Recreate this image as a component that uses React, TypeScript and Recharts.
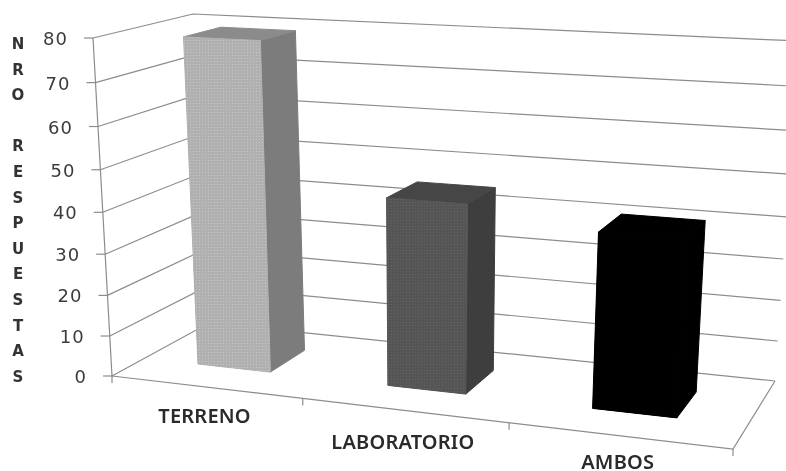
import React from 'react';
import { BarChart, Bar, XAxis, YAxis, CartesianGrid } from 'recharts';

const categories = ['TERRENO', 'LABORATORIO', 'AMBOS'];
const respuestas = [79, 45, 41];
const yTicks = [0, 10, 20, 30, 40, 50, 60, 70, 80];
const titleLetters = ['N', 'R', 'O', '', 'R', 'E', 'S', 'P', 'U', 'E', 'S', 'T', 'A', 'S'];

const data = categories.map((name, i) => ({ name, value: respuestas[i] }));

const W = 786, H = 471;
const M = { left: 99, right: 86, top: 50, bottom: 70 };
const PL = M.left + 1;
const PW = W - PL - M.right, PH = H - M.top - M.bottom - 1;
const PB = M.top + PH;
const D0 = 0.34, D1 = 0.73;
const BAR_U_SHIFT = 0.004;
const LABEL_DROP = [36, 39, 33];
type Pt = [number, number];

// unit square -> quad (bottom-left, bottom-right, top-right, top-left)
function homography(q: Pt[]) {
  const [[x0, y0], [x1, y1], [x2, y2], [x3, y3]] = q;
  const dx1 = x1 - x2, dx2 = x3 - x2, sx = x0 - x1 + x2 - x3;
  const dy1 = y1 - y2, dy2 = y3 - y2, sy = y0 - y1 + y2 - y3;
  const den = dx1 * dy2 - dx2 * dy1;
  const g = (sx * dy2 - dx2 * sy) / den;
  const h = (dx1 * sy - sx * dy1) / den;
  const a = x1 - x0 + g * x1, b = x3 - x0 + h * x3;
  const d = y1 - y0 + g * y1, e = y3 - y0 + h * y3;
  return (u: number, v: number): Pt => {
    const w = g * u + h * v + 1;
    return [(a * u + b * v + x0) / w, (d * u + e * v + y0) / w];
  };
}
const front = homography([[112, 376], [733, 449], [757, 70], [93, 38]]);
const back = homography([[209, 323], [775, 381], [798, 41], [193, 14]]);
const proj = (u: number, v: number, d: number): Pt => {
  const f = front(u, v), b = back(u, v);
  return [f[0] + (b[0] - f[0]) * d, f[1] + (b[1] - f[1]) * d];
};
const poly = (pts: Pt[]) => pts.map((p) => p[0].toFixed(1) + ',' + p[1].toFixed(1)).join(' ');
const toU = (x: number) => (x - PL) / PW;
const toV = (y: number) => (PB - y) / PH;

const LINE = '#8c8c8c';
const faces = [
  { front: '#b0b0b0', dot: '#c6c6c6', side: '#7c7c7c', top: '#8b8b8b' },
  { front: '#555555', dot: '#646464', side: '#3e3e3e', top: '#464646' },
  { front: '#000000', dot: '#000000', side: '#000000', top: '#000000' },
];

const Bar3D = (props: any) => {
  const { x, y, width, height, index } = props;
  const c = faces[index];
  const uL = toU(x) - BAR_U_SHIFT, uR = toU(x + width) - BAR_U_SHIFT, vT = toV(y), vB = toV(y + height);
  const id = 'dots' + index;
  const sidePts = poly([proj(uR, vB, D0), proj(uR, vB, D1), proj(uR, vT, D1), proj(uR, vT, D0)]);
  const topPts = poly([proj(uL, vT, D0), proj(uR, vT, D0), proj(uR, vT, D1), proj(uL, vT, D1)]);
  const frontPts = poly([proj(uL, vB, D0), proj(uR, vB, D0), proj(uR, vT, D0), proj(uL, vT, D0)]);
  return (
    <g>
      <defs>
        <pattern id={id} width={3} height={3} patternUnits="userSpaceOnUse">
          <rect width={3} height={3} fill={c.front} />
          <rect x={1} y={1} width={1} height={1} fill={c.dot} />
        </pattern>
      </defs>
      <polygon points={sidePts} fill={c.side} stroke={c.side} strokeWidth={1} strokeLinejoin="round" />
      <polygon points={topPts} fill={c.top} stroke={c.top} strokeWidth={1} strokeLinejoin="round" />
      <polygon points={frontPts} fill={c.front} stroke={c.front} strokeWidth={1} strokeLinejoin="round" />
      <polygon points={frontPts} fill={`url(#${id})`} />
    </g>
  );
};

const GridLine = (props: any) => {
  const v = toV(props.y1);
  const f = proj(0, v, 0);
  const isFloor = v < 0.001, isTop = v > 0.999;
  return (
    <g key={props.key}>
      <polyline points={poly([f, proj(0, v, 1), proj(1, v, 1)])} fill="none" stroke={LINE} strokeWidth={1.2} />
      <line x1={f[0] - 9} y1={f[1]} x2={f[0]} y2={f[1]} stroke={LINE} strokeWidth={1.2} />
      {isTop && <polyline points={poly([proj(0, 1, 0), proj(0, 0, 0)])} fill="none" stroke={LINE} strokeWidth={1.2} />}
      {isFloor && (
        <g>
          <polyline points={poly([proj(1, 0, 1), proj(1, 0, 0), proj(0, 0, 0)])} fill="none" stroke={LINE} strokeWidth={1.2} />
          {[0, 1, 2, 3].map((i) => {
            const p = proj(i / categories.length, 0, 0);
            return <line key={i} x1={p[0]} y1={p[1]} x2={p[0]} y2={p[1] + 7} stroke={LINE} strokeWidth={1.2} />;
          })}
        </g>
      )}
    </g>
  );
};

const YTick = (props: any) => {
  const p = proj(0, toV(props.y), 0);
  return (
    <text x={p[0] - 25} y={p[1] + 7} textAnchor="end" fontFamily="DejaVu Sans" fontSize={18} letterSpacing={1} fill="#3c3c3c">
      {props.payload.value}
    </text>
  );
};

const XTick = (props: any) => {
  const p = proj(toU(props.x), 0, 0);
  return (
    <text x={p[0] - 1} y={p[1] + LABEL_DROP[props.index]} textAnchor="middle" fontFamily="Noto Sans" fontWeight={600} fontSize={20} letterSpacing={0.2} fill="#2a2a2a">
      {props.payload.value}
    </text>
  );
};

export default function App() {
  return (
    <div style={{ position: 'absolute', left: 0, top: 0, width: W, height: H, background: '#fff', filter: 'blur(0.5px)' }}>
      <BarChart width={W} height={H} data={data} margin={M} barCategoryGap="30.5%">
        <CartesianGrid horizontal={GridLine as any} vertical={false} />
        <XAxis dataKey="name" height={1} axisLine={false} tickLine={false} tick={XTick as any} interval={0} />
        <YAxis width={1} domain={[0, 80]} ticks={yTicks} axisLine={false} tickLine={false} tick={YTick as any} interval={0} />
        <Bar dataKey="value" isAnimationActive={false} shape={Bar3D as any} />
        {titleLetters.map((ch, i) => (
          <text key={i} x={18} y={49 + i * 25.6} textAnchor="middle" fontFamily="DejaVu Sans" fontSize={15} fontWeight={700} fill="#333">
            {ch}
          </text>
        ))}
      </BarChart>
    </div>
  );
}
